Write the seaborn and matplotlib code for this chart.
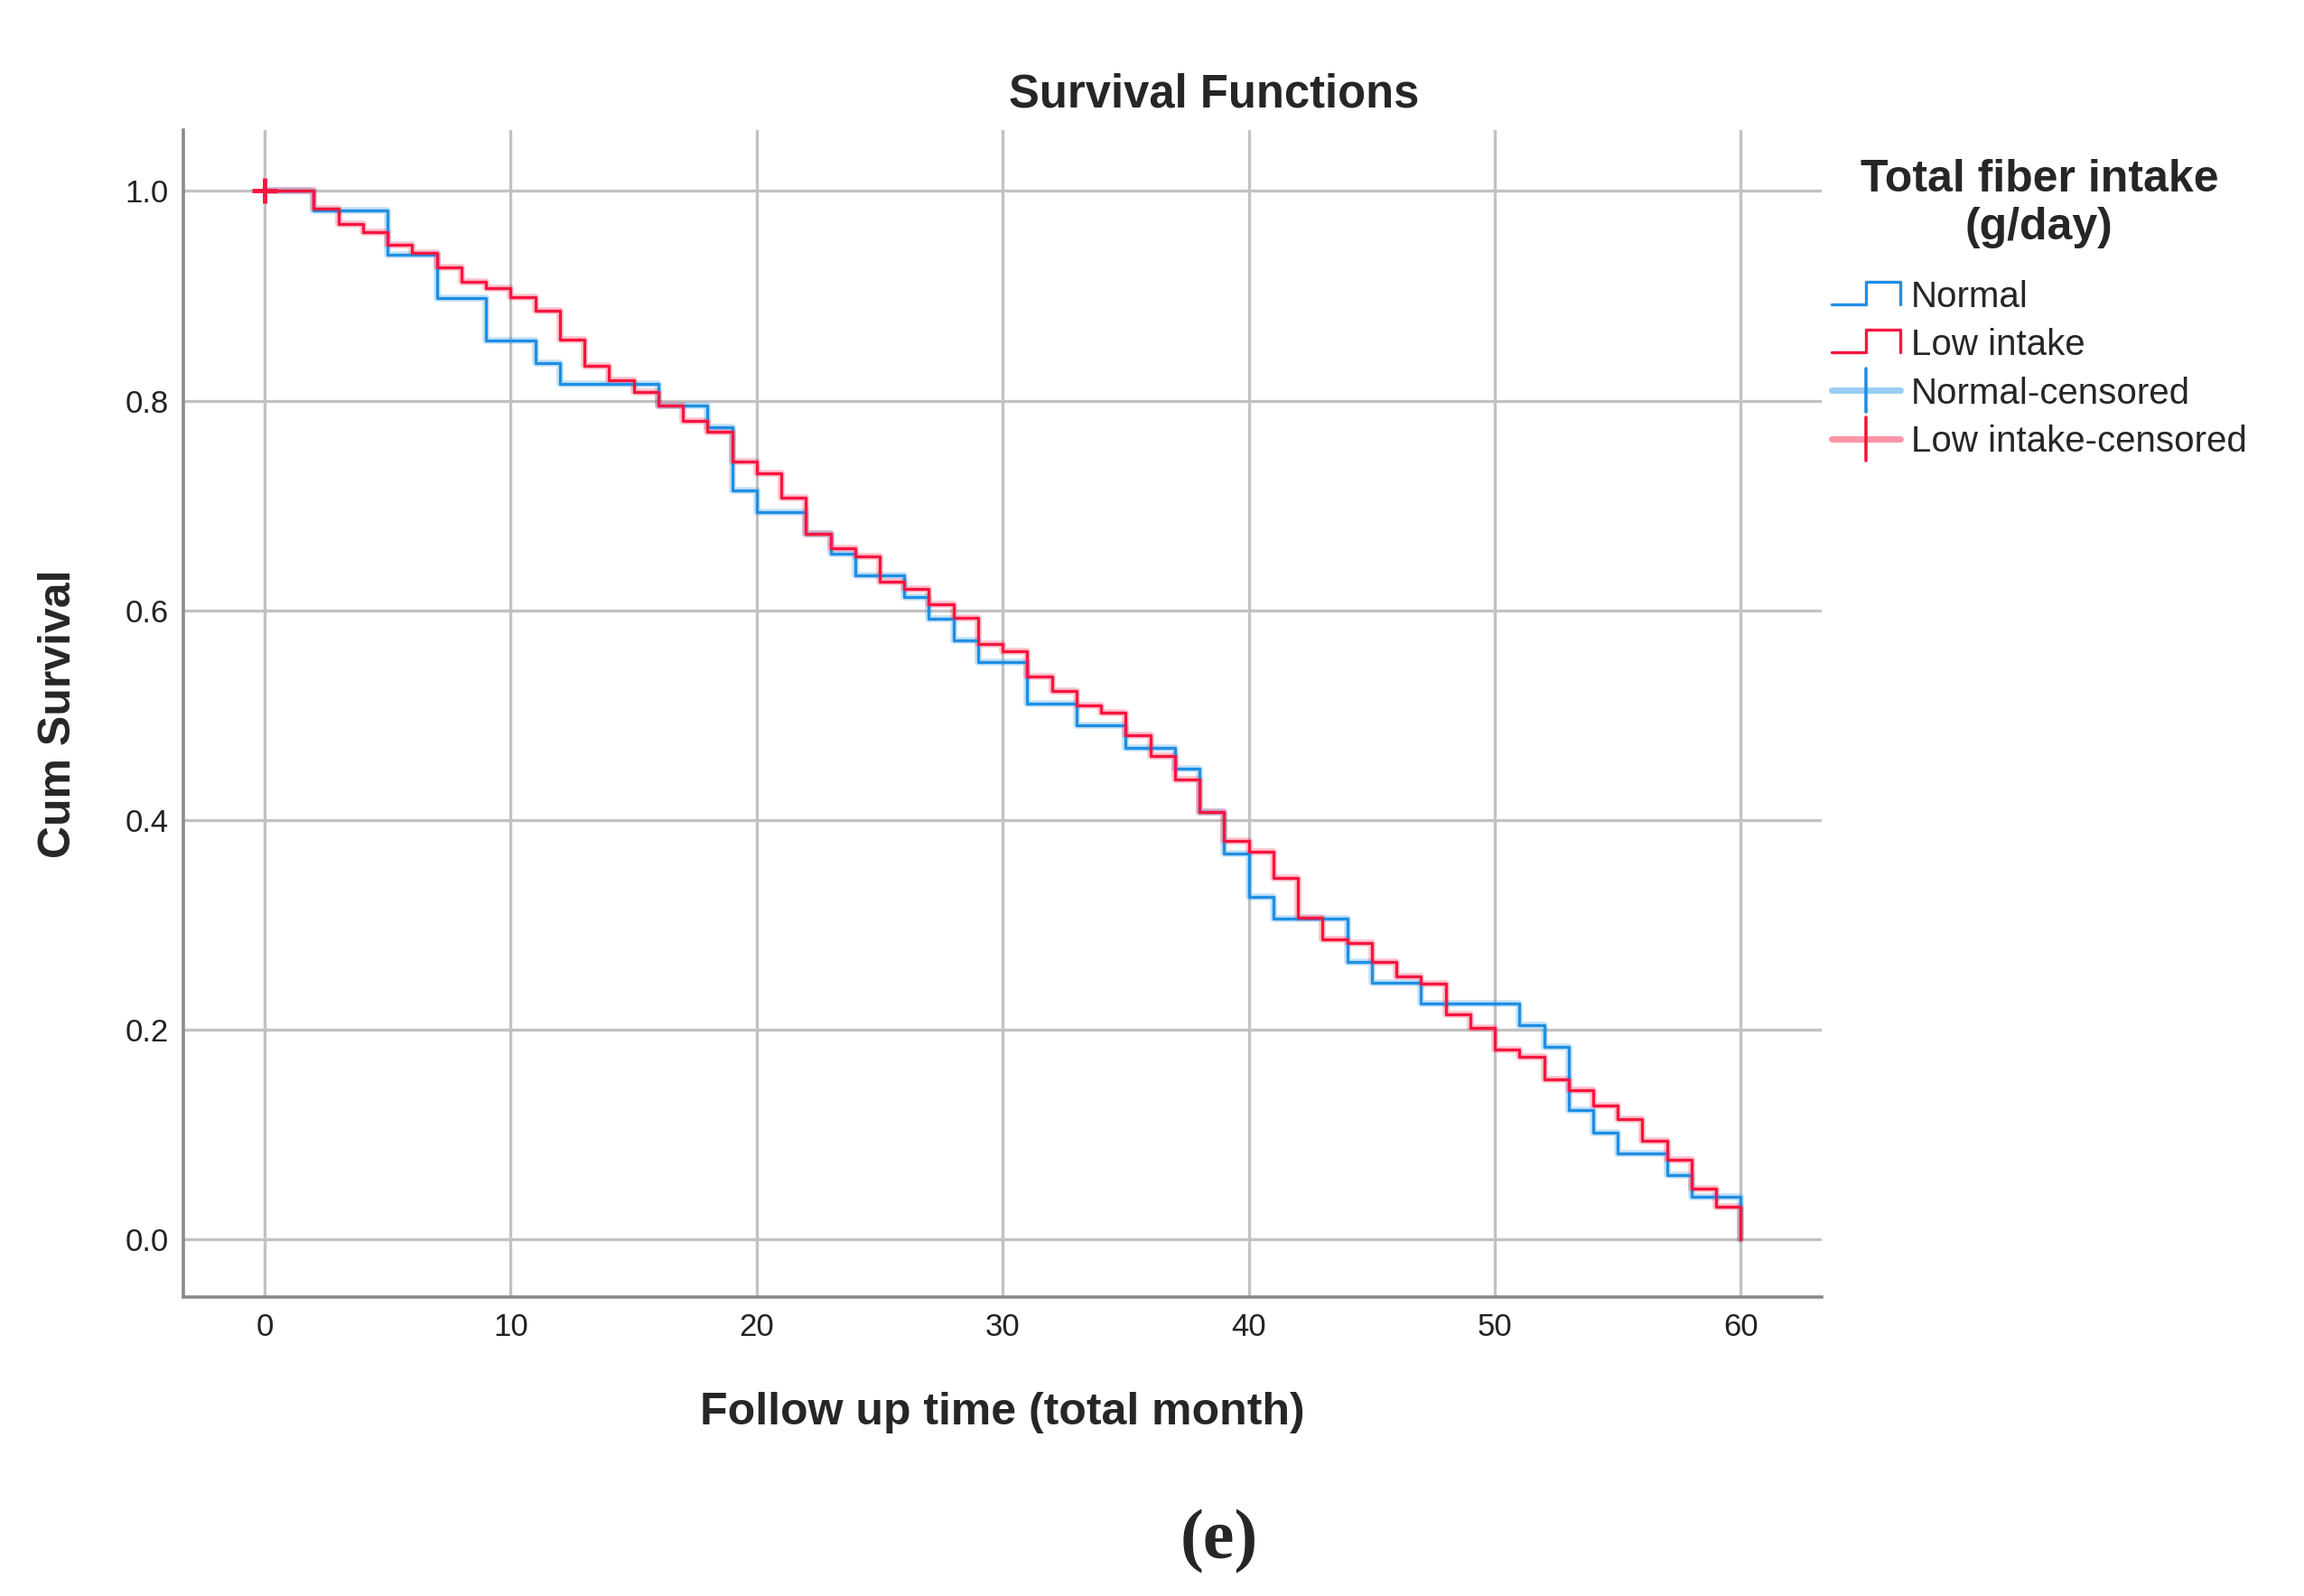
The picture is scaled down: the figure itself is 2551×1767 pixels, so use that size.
import numpy as np
import pandas as pd
import matplotlib
matplotlib.use("Agg")
import matplotlib.pyplot as plt
import seaborn as sns
from matplotlib.lines import Line2D
from matplotlib.legend_handler import HandlerBase

# Kaplan-Meier step values
normal_time = [0, 2, 5, 7, 9, 11, 12, 16, 18, 19, 20, 22, 23, 24, 26, 27, 28, 29,
               31, 33, 35, 37, 38, 39, 40, 41, 44, 45, 47, 51, 52, 53, 54, 55, 57, 58, 60]
normal_surv = [1.0, 0.981, 0.939, 0.898, 0.857, 0.836, 0.816, 0.795, 0.775, 0.714, 0.694,
               0.673, 0.654, 0.633, 0.613, 0.592, 0.571, 0.551, 0.511, 0.490, 0.469, 0.449,
               0.408, 0.368, 0.327, 0.306, 0.265, 0.245, 0.225, 0.204, 0.184, 0.123, 0.102,
               0.082, 0.061, 0.041, 0.0]

low_time = [0] + list(range(2, 61))
low_surv = [1.0, 0.983, 0.968, 0.961, 0.949, 0.941, 0.927, 0.913, 0.907, 0.899, 0.886,
            0.858, 0.833, 0.819, 0.808, 0.795, 0.781, 0.770, 0.742, 0.731, 0.707, 0.673,
            0.659, 0.651, 0.627, 0.620, 0.606, 0.593, 0.568, 0.561, 0.537, 0.523, 0.509,
            0.502, 0.481, 0.461, 0.439, 0.408, 0.380, 0.370, 0.345, 0.307, 0.286, 0.283,
            0.265, 0.251, 0.244, 0.215, 0.202, 0.181, 0.174, 0.153, 0.142, 0.128, 0.115,
            0.094, 0.076, 0.048, 0.031, 0.0]

# censored observation
cens_time = [0]
cens_surv = [1.0]

groups = ["Normal", "Low intake"]
colors = {"Normal": "#1f8fe3", "Low intake": "#f7153f"}

df = pd.concat([
    pd.DataFrame({"time": normal_time, "surv": normal_surv, "group": "Normal"}),
    pd.DataFrame({"time": low_time, "surv": low_surv, "group": "Low intake"}),
], ignore_index=True)

sns.set_style("white")
plt.rcParams["font.family"] = ["Liberation Sans", "DejaVu Sans"]

fig = plt.figure(figsize=(25.51, 17.67), dpi=100)
ax = fig.add_axes([0.0796, 0.1873, 0.7112, 0.7312])

# faint halo, then the curves
sns.lineplot(data=df, x="time", y="surv", hue="group", palette=colors, hue_order=groups,
             drawstyle="steps-post", estimator=None, lw=5.5, alpha=0.25, legend=False, ax=ax)
sns.lineplot(data=df, x="time", y="surv", hue="group", palette=colors, hue_order=groups,
             drawstyle="steps-post", estimator=None, lw=2.4, legend=False, ax=ax)
ax.plot(cens_time, cens_surv, marker="+", ms=20, mew=3.5, color=colors["Low intake"], ls="none")

ax.set_xlim(-3.3, 63.3)
ax.set_ylim(-0.055, 1.058)
ax.set_xticks(range(0, 61, 10))
ax.set_yticks([0.0, 0.2, 0.4, 0.6, 0.8, 1.0])
ax.set_yticklabels([f"{v:.1f}" for v in [0.0, 0.2, 0.4, 0.6, 0.8, 1.0]])
ax.grid(True, color="#c2c2c2", lw=2.4)
ax.set_axisbelow(True)
for s in ["top", "right"]:
    ax.spines[s].set_visible(False)
for s in ["left", "bottom"]:
    ax.spines[s].set_color("#8a8a8a")
    ax.spines[s].set_linewidth(2.6)
ax.tick_params(length=0, labelsize=25, colors="#222222")
ax.tick_params(axis="x", pad=12)
ax.tick_params(axis="y", pad=12)

ax.set_xlabel("Follow up time (total month)", fontsize=36, fontweight="bold", labelpad=40)
ax.set_ylabel("Cum Survival", fontsize=36, fontweight="bold", labelpad=36)
fig.text(0.527, 0.9406, "Survival Functions", fontsize=36.5, fontweight="bold",
         ha="center", va="center")
fig.text(0.529, 0.034, "(e)", fontsize=56, fontweight="bold", ha="center", va="center",
         family="Liberation Serif")


class StepHandler(HandlerBase):
    def create_artists(self, legend, orig_handle, xdescent, ydescent, width, height,
                       fontsize, trans):
        x0 = -xdescent
        y0 = -ydescent
        xs = [x0, x0 + width * 0.5, x0 + width * 0.5, x0 + width, x0 + width]
        ys = [y0 + height * 0.1, y0 + height * 0.1, y0 + height * 1.0, y0 + height * 1.0, y0 + height * 0.1]
        ln = Line2D(xs, ys, color=orig_handle.get_color(), lw=2.4)
        ln.set_transform(trans)
        return [ln]


class CensorHandler(HandlerBase):
    def create_artists(self, legend, orig_handle, xdescent, ydescent, width, height,
                       fontsize, trans):
        x0 = -xdescent
        y0 = -ydescent
        c = orig_handle.get_color()
        h = Line2D([x0, x0 + width], [y0 + height * 0.5] * 2, color=c, lw=5, alpha=0.45)
        v = Line2D([x0 + width * 0.5] * 2, [y0 - height * 0.35, y0 + height * 1.35], color=c, lw=2.6)
        h.set_transform(trans)
        v.set_transform(trans)
        return [h, v]


h_norm = Line2D([], [], color=colors["Normal"])
h_low = Line2D([], [], color=colors["Low intake"])
h_norm_c = Line2D([], [], color=colors["Normal"], marker="+")
h_low_c = Line2D([], [], color=colors["Low intake"], marker="+")

leg = fig.legend([h_norm, h_low, h_norm_c, h_low_c],
                 ["Normal", "Low intake", "Normal-censored", "Low intake-censored"],
                 handler_map={h_norm: StepHandler(), h_low: StepHandler(),
                              h_norm_c: CensorHandler(), h_low_c: CensorHandler()},
                 loc="upper left", bbox_to_anchor=(0.7885, 0.9095), frameon=False,
                 fontsize=29, title="Total fiber intake\n(g/day)", handlelength=1.9,
                 handletextpad=0.3, labelspacing=0.38, borderaxespad=0)
leg.get_title().set_fontsize(36)
leg.get_title().set_fontweight("bold")
leg.get_title().set_multialignment("center")
leg._legend_box.align = "center"
leg._legend_box.sep = 25

fig.savefig("out.png", dpi=100)
